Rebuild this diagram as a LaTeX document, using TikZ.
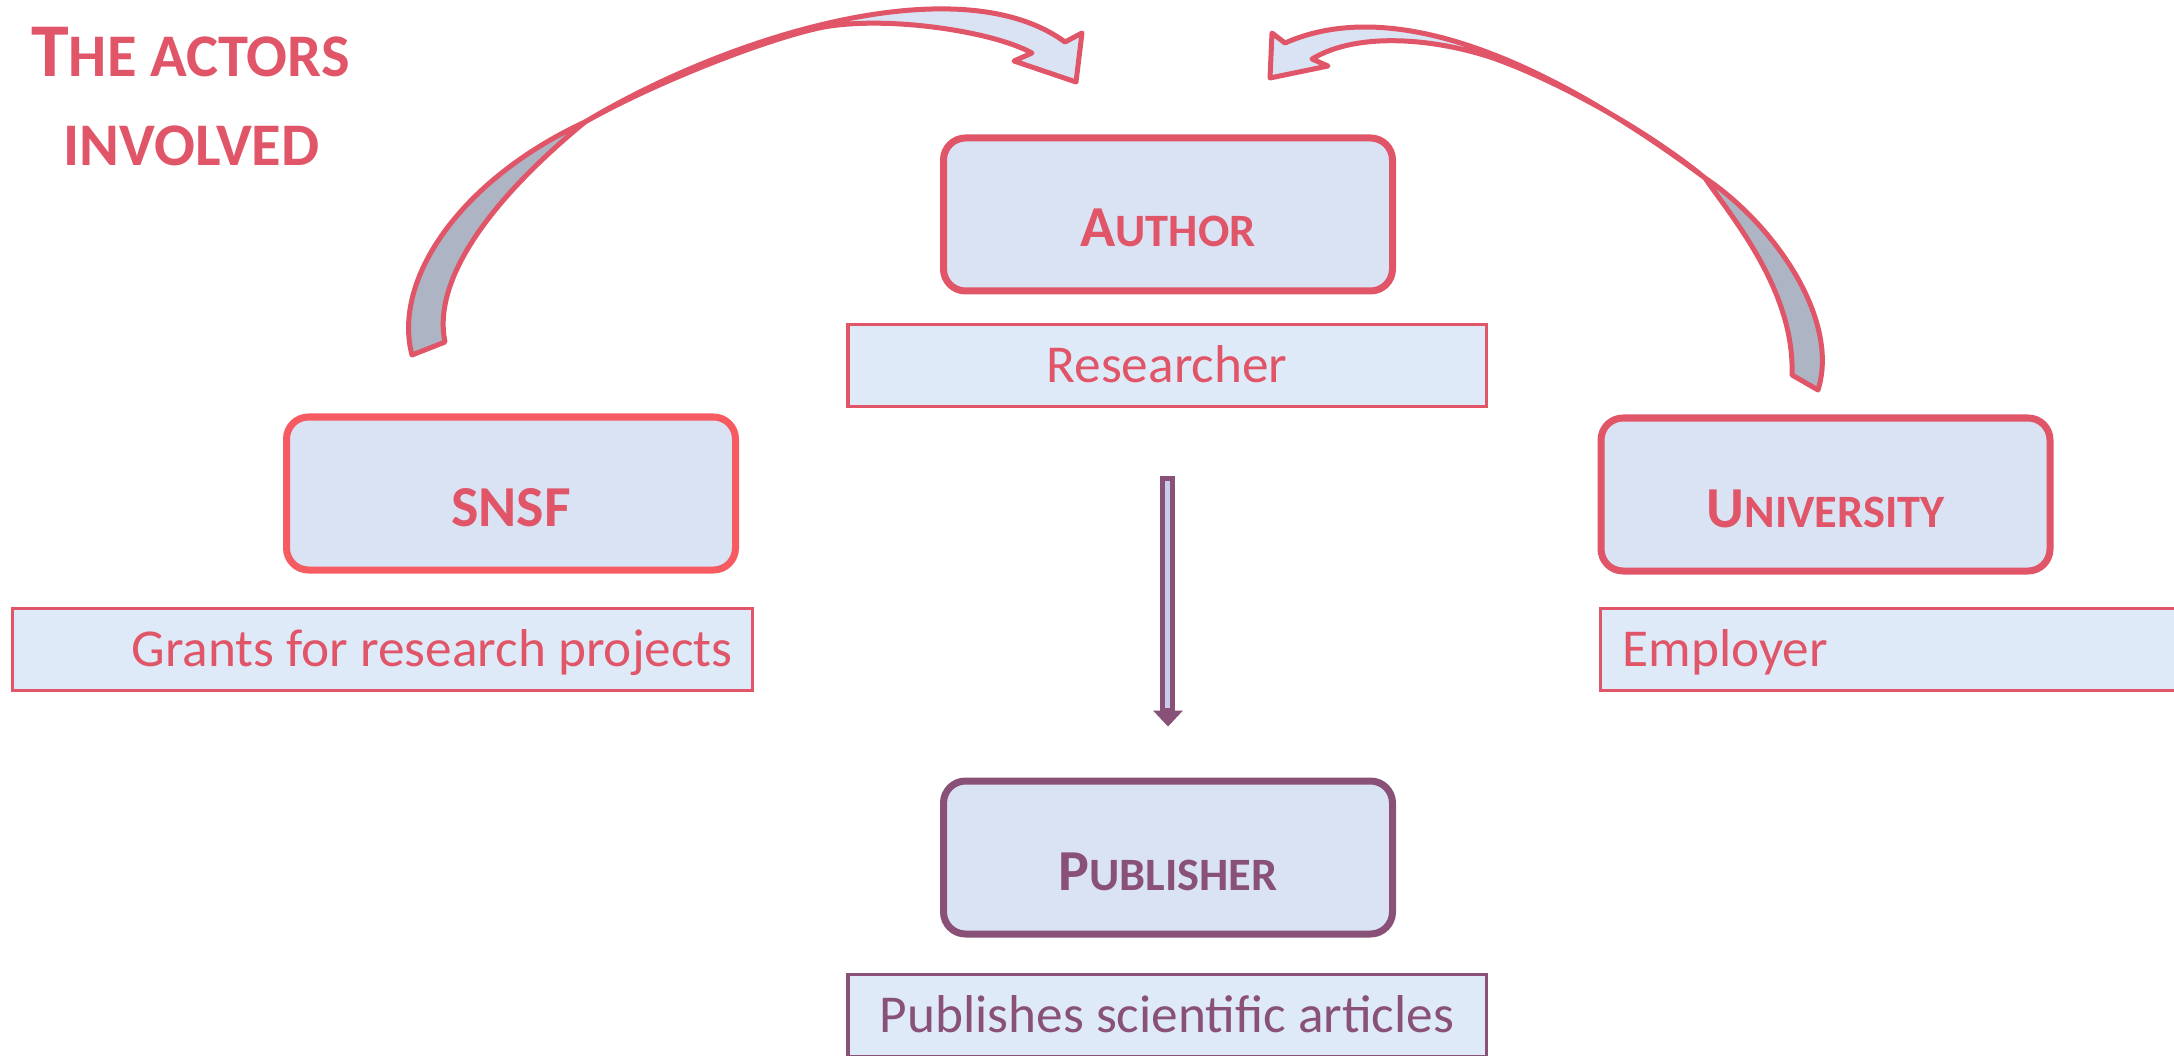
\documentclass[tikz,border=0pt]{standalone}
\usepackage{fontspec}
\setmainfont{Carlito}
\usetikzlibrary{calc}
\definecolor{rd}{RGB}{224,85,104}
\definecolor{snsfline}{RGB}{246,91,98}
\definecolor{purp}{RGB}{137,81,119}
\definecolor{boxfill}{RGB}{218,227,243}
\definecolor{subfill}{RGB}{222,234,247}
\definecolor{under}{RGB}{173,181,196}
\definecolor{lav}{RGB}{200,204,232}
\newcommand\labsc[2]{{\fontsize{58}{60}\selectfont #1}{\fontsize{46.4}{50}\selectfont #2}}
\newcommand\titsc[2]{{\fontsize{76}{80}\selectfont #1}{\fontsize{60.5}{64}\selectfont #2}}
\begin{document}
\begin{tikzpicture}[x=1pt,y=-1pt,
  mainbox/.style={draw=rd, line width=7pt, rounded corners=22pt, fill=boxfill,
    minimum width=449pt, minimum height=153pt, inner sep=0pt, text=rd,
    font=\bfseries, text height=65pt, text depth=0pt},
  subbox/.style={draw=rd, line width=3.5pt, fill=subfill, minimum height=82pt,
    inner ysep=0pt, text=rd, font=\fontsize{53.3}{60}\selectfont,
    text height=34.3pt, text depth=0pt},
  carrow/.style={draw=rd, line width=5pt, line join=round},
  titletext/.style={text=rd, font=\bfseries, inner sep=0pt, anchor=base}]
\useasboundingbox (0,0) rectangle (2174,1056);
\clip (0,0) rectangle (2174,1056);

% title
\node[titletext] (t1) at (190.5,77) {\titsc{T}{HE ACTORS}};
\node[titletext] (t2) at (191.5,166) {\titsc{}{INVOLVED}};

% main boxes
\node[mainbox] (author) at (1168,214.5) {\labsc{A}{UTHOR}};
\node[mainbox, draw=snsfline] (snsf) at (511,493.5) {\labsc{SNSF}{}};
\node[mainbox] (univ) at (1825.5,494.5) {\labsc{U}{NIVERSITY}};
\node[mainbox, draw=purp, text=purp] (pub) at (1168,857.5) {\labsc{P}{UBLISHER}};

% sub boxes
\node[subbox, minimum width=638.5pt, inner xsep=0pt] (res) at (1167,365.5) {Researcher};
\node[subbox, text width=700pt, inner xsep=20pt, align=flush right] (grants) at (382.5,649.5) {Grants for research projects};
\node[subbox, text width=554pt, inner xsep=22pt, align=flush left] (emp) at (1899.5,649.5) {Employer};
\node[subbox, draw=purp, text=purp, minimum width=638.5pt, inner xsep=0pt] (pubtxt) at (1167,1015.5) {Publishes scientific articles};

% curved arrow SNSF -> Author
\filldraw[carrow, fill=under] (412,355) .. controls (392,280) and (460,180) .. (585,122)
  .. controls (490,200) and (432,280) .. (445,342) -- cycle;
\filldraw[carrow, fill=boxfill] (585,122) .. controls (730,35) and (960,-35) .. (1065,42)
  -- (1082,33) -- (1076,82) -- (1014,61) -- (1032,53)
  .. controls (990,30) and (880,15) .. (819,28)
  .. controls (760,41) and (650,85) .. (585,122) -- cycle;

% curved arrow University -> Author
\filldraw[carrow, fill=under] (1818,390) .. controls (1840,320) and (1775,225) .. (1705,178)
  .. controls (1730,215) and (1795,290) .. (1792,375) -- cycle;
\filldraw[carrow, fill=boxfill] (1705,178) .. controls (1560,70) and (1400,-8) .. (1285,43)
  -- (1272,33) -- (1270,78) -- (1328,66) -- (1312,59)
  .. controls (1360,30) and (1440,40) .. (1493,58)
  .. controls (1550,78) and (1640,125) .. (1705,178) -- cycle;

% down arrow Researcher -> Publisher
\coordinate (dtop) at ($(res.south)+(0,70)$);
\coordinate (dtip) at ($(pub.north)+(0,-51)$);
\fill[purp] ($(dtip)+(-15,-16)$) -- ($(dtip)+(15,-16)$) -- (dtip) -- cycle;
\draw[purp, line width=5.5pt, fill=lav] ($(dtop)+(-4.5,0)$) rectangle ($(dtip)+(4.5,-16)$);
\end{tikzpicture}
\end{document}
